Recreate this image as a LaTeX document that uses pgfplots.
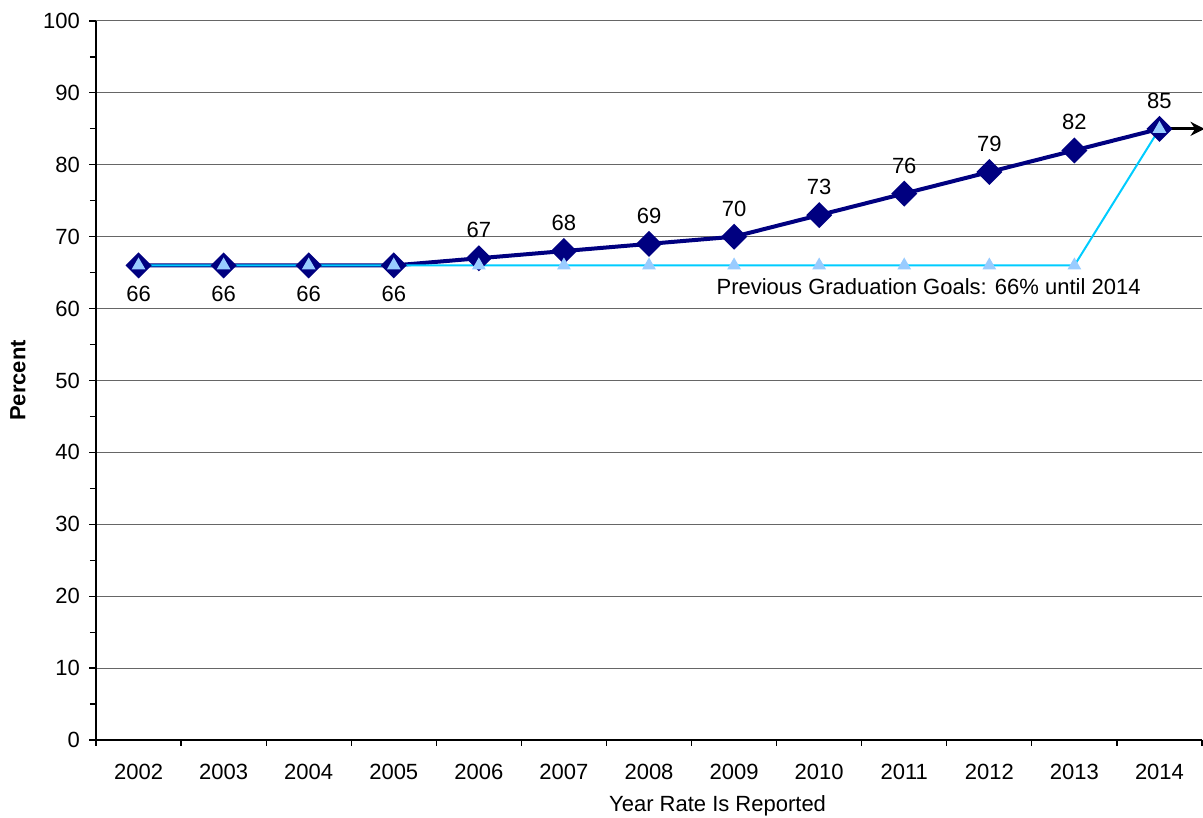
\documentclass[border=0pt]{standalone}
\usepackage{pgfplots}
\pgfplotsset{compat=1.18}
\usepackage{fontspec}
\setmainfont{Liberation Sans}
\usetikzlibrary{arrows.meta}

\definecolor{navyline}{RGB}{0,0,128}
\definecolor{goalline}{RGB}{0,204,255}
\definecolor{goalmark}{RGB}{153,204,255}

\begin{document}
\begin{tikzpicture}
\useasboundingbox (-48pt,-39pt) rectangle (553.5pt,370pt);
\begin{axis}[
    at={(0,0)}, anchor=south west,
    scale only axis,
    width=553pt, height=359.5pt,
    font=\fontsize{11}{13}\selectfont,
    /pgf/number format/assume math mode=true,
    xmin=-0.5, xmax=12.5,
    ymin=0, ymax=100,
    xtick={0,...,12},
    xticklabels={2002,2003,2004,2005,2006,2007,2008,2009,2010,2011,2012,2013,2014},
    minor xtick={-0.5,0.5,...,12.5},
    ytick={0,10,...,100},
    minor ytick={5,15,...,95},
    axis x line*=bottom, axis y line*=left,
    axis line style={black, line width=0.75pt, -},
    tick align=outside,
    major tick length=3.5pt, minor tick length=3pt,
    x tick style={draw=none},
    minor x tick style={draw=black, line width=0.6pt},
    y tick style={black, line width=0.6pt},
    ymajorgrids=true,
    grid style={black!60, line width=0.5pt},
    xticklabel style={yshift=-5pt},
    yticklabel style={xshift=-1pt},
    xlabel={Year Rate Is Reported},
    ylabel={\bfseries Percent},
    xlabel style={at={(axis description cs:0.562,-0.0918)}, anchor=center},
    ylabel style={at={(axis description cs:-0.0705,0.5)}, anchor=center},
    clip=false,
]
% graduation goal, current
\addplot[navyline, line width=2pt, mark=square*, mark size=3.6pt,
    mark options={rotate=45, fill=navyline, draw=navyline}]
    coordinates {(0,66)(1,66)(2,66)(3,66)(4,67)(5,68)(6,69)(7,70)(8,73)(9,76)(10,79)(11,82)(12,85)};
% previous graduation goals
\addplot[goalline, line width=1pt, mark=triangle*, mark size=3pt,
    mark options={fill=goalmark, draw=goalmark}]
    coordinates {(0,66)(1,66)(2,66)(3,66)(4,66)(5,66)(6,66)(7,66)(8,66)(9,66)(10,66)(11,66)(12,85)};
% arrow beyond 2014
\addplot[black, line width=1.5pt, -{Stealth[length=7pt,width=7pt]}]
    coordinates {(12.12,85)(12.53,85)};
% data labels
\addplot[draw=none, mark=none, nodes near coords,
    every node near coord/.style={anchor=center, yshift=14pt, font=\fontsize{11}{13}\selectfont}]
    coordinates {(4,67)(5,68)(6,69)(7,70)(8,73)(9,76)(10,79)(11,82)(12,85)};
\addplot[draw=none, mark=none, nodes near coords,
    every node near coord/.style={anchor=center, yshift=-14pt, font=\fontsize{11}{13}\selectfont}]
    coordinates {(0,66)(1,66)(2,66)(3,66)};
\node[anchor=west, inner sep=0pt] at (axis cs:6.79,63.0) {Previous Graduation Goals: 66\% until 2014};
\end{axis}
\end{tikzpicture}
\end{document}
